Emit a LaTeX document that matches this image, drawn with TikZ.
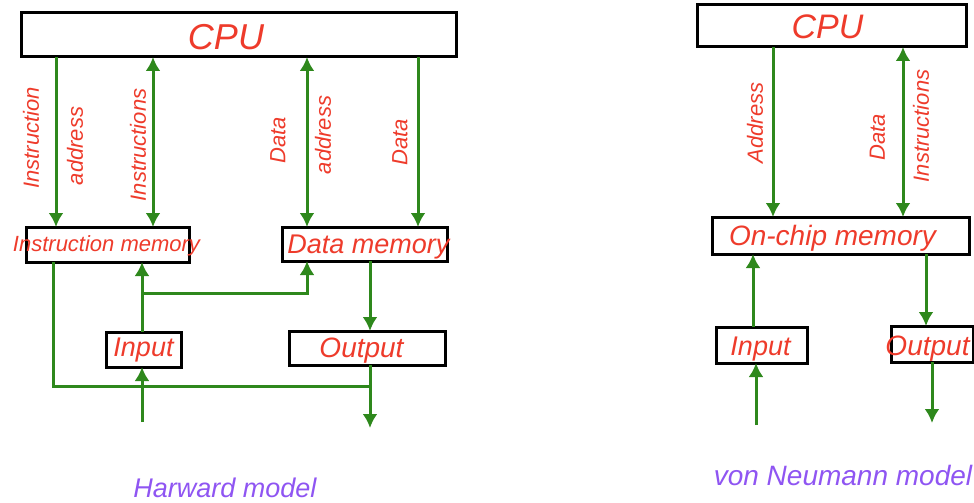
\documentclass[tikz,border=0pt]{standalone}
\usepackage{fontspec}
\setmainfont{Liberation Sans}
\usetikzlibrary{arrows.meta}
\definecolor{lblred}{HTML}{EE3B2B}
\definecolor{busgreen}{HTML}{2E881C}
\definecolor{capviolet}{HTML}{8F55F2}
\newcommand\fsz[1]{\fontsize{#1}{#1}\selectfont}
\tikzset{
  unitbox/.style={draw=black, line width=3pt, fill=white, inner sep=0pt, outer sep=0pt},
  boxtext/.style={anchor=base, inner sep=0pt, text=lblred, font=\itshape},
  buslabel/.style={rotate=90, inner sep=0pt, text=lblred, font=\itshape\fsz{22}},
  caption/.style={anchor=base, inner sep=0pt, text=capviolet, font=\itshape\fsz{27}},
  bus/.style={draw=busgreen, line width=3pt},
  headtip/.tip={Latex[width=15pt,length=14pt]},
  tipped/.style={bus, -headtip},
  twoway/.style={bus, headtip-headtip}
}
\begin{document}
\begin{tikzpicture}[x=1pt,y=-1pt]
\useasboundingbox (0,0) rectangle (974,503);

% ---------------- Harvard model ----------------
\node[unitbox, minimum width=435pt, minimum height=44pt] (cpuL) at (238.5,35) {};
\node[unitbox, minimum width=163pt, minimum height=35pt] (im)   at (107.5,244.5) {};
\node[unitbox, minimum width=165pt, minimum height=34pt] (dm)   at (364.5,244) {};
\node[unitbox, minimum width=75pt,  minimum height=35pt] (inL)  at (143.5,349.5) {};
\node[unitbox, minimum width=156pt, minimum height=34pt] (outL) at (367,348) {};

% bus columns
\coordinate (xIA) at (56,0);
\coordinate (xIN) at (153,0);
\coordinate (xDA) at (307,0);
\coordinate (xDD) at (418,0);
\coordinate (xFB) at (53,0);
\coordinate (xIO) at (142,0);
\coordinate (xDO) at (370,0);
\coordinate (branch) at (142,293);
\coordinate (join) at (370,386);
\coordinate (srcL) at (142,422);
\coordinate (sinkL) at (370,428);

\draw[tipped] (cpuL.south -| xIA) -- (im.north -| xIA);
\draw[twoway] (cpuL.south -| xIN) -- (im.north -| xIN);
\draw[twoway] (cpuL.south -| xDA) -- (dm.north -| xDA);
\draw[tipped] (cpuL.south -| xDD) -- (dm.north -| xDD);

\draw[tipped] (inL.north -| xIO) -- (im.south -| xIO);
\draw[tipped] (branch) -| (dm.south -| xDA);
\draw[tipped] (dm.south -| xDO) -- (outL.north -| xDO);
\draw[tipped] (srcL) -- (inL.south -| xIO);
\draw[bus] (im.south -| xFB) |- (join);
\draw[tipped] (outL.south -| xDO) -- (sinkL);

\node[boxtext, font=\itshape\fsz{36}] (tCpuL) at (226,50) {CPU};
\node[boxtext, font=\itshape\fsz{22}] (tIm) at (106.5,251) {Instruction memory};
\node[boxtext, font=\itshape\fsz{27}] (tDm) at (368.5,253) {Data memory};
\node[boxtext, font=\itshape\fsz{27}] (tInL) at (143.5,356) {Input};
\node[boxtext, font=\itshape\fsz{28}] (tOutL) at (361.5,357) {Output};

\node[buslabel] (lIA1) at (31,138) {Instruction};
\node[buslabel] (lIA2) at (75,146) {address};
\node[buslabel] (lIN)  at (138,145) {Instructions};
\node[buslabel] (lDA1) at (278,140) {Data};
\node[buslabel] (lDA2) at (323,135) {address};
\node[buslabel] (lDD)  at (400,142) {Data};

\node[caption] (capL) at (225,497) {Harward model};

% ---------------- von Neumann model ----------------
\node[unitbox, minimum width=269pt, minimum height=42pt] (cpuR) at (831.5,26) {};
\node[unitbox, minimum width=257pt, minimum height=37pt] (ocm)  at (840.5,235.5) {};
\node[unitbox, minimum width=91pt,  minimum height=36pt] (inR)  at (761.5,345) {};
\node[unitbox, minimum width=82pt,  minimum height=36pt] (outR) at (932,344) {};

\coordinate (xAd) at (773,0);
\coordinate (xDI) at (903,0);
\coordinate (xIM) at (753,0);
\coordinate (xMO) at (926,0);
\coordinate (srcR) at (756,425);
\coordinate (sinkR) at (932,423);

\draw[tipped] (cpuR.south -| xAd) -- (ocm.north -| xAd);
\draw[twoway] (cpuR.south -| xDI) -- (ocm.north -| xDI);
\draw[tipped] (inR.north -| xIM) -- (ocm.south -| xIM);
\draw[tipped] (srcR) -- (inR.south -| srcR);
\draw[tipped] (ocm.south -| xMO) -- (outR.north -| xMO);
\draw[tipped] (outR.south -| sinkR) -- (sinkR);

\node[boxtext, font=\itshape\fsz{34}] (tCpuR) at (827.5,38) {CPU};
\node[boxtext, font=\itshape\fsz{28}] (tOcm) at (832.5,245) {On-chip memory};
\node[boxtext, font=\itshape\fsz{27}] (tInR) at (760.5,355) {Input};
\node[boxtext, font=\itshape\fsz{28}] (tOutR) at (927.5,355) {Output};

\node[buslabel] (lAd) at (755,123) {Address};
\node[buslabel] (lDt) at (877.5,137.5) {Data};
\node[buslabel] (lIs) at (921,126) {Instructions};

\node[caption, font=\itshape\fsz{28}] (capR) at (843,485) {von Neumann model};
\end{tikzpicture}
\end{document}
